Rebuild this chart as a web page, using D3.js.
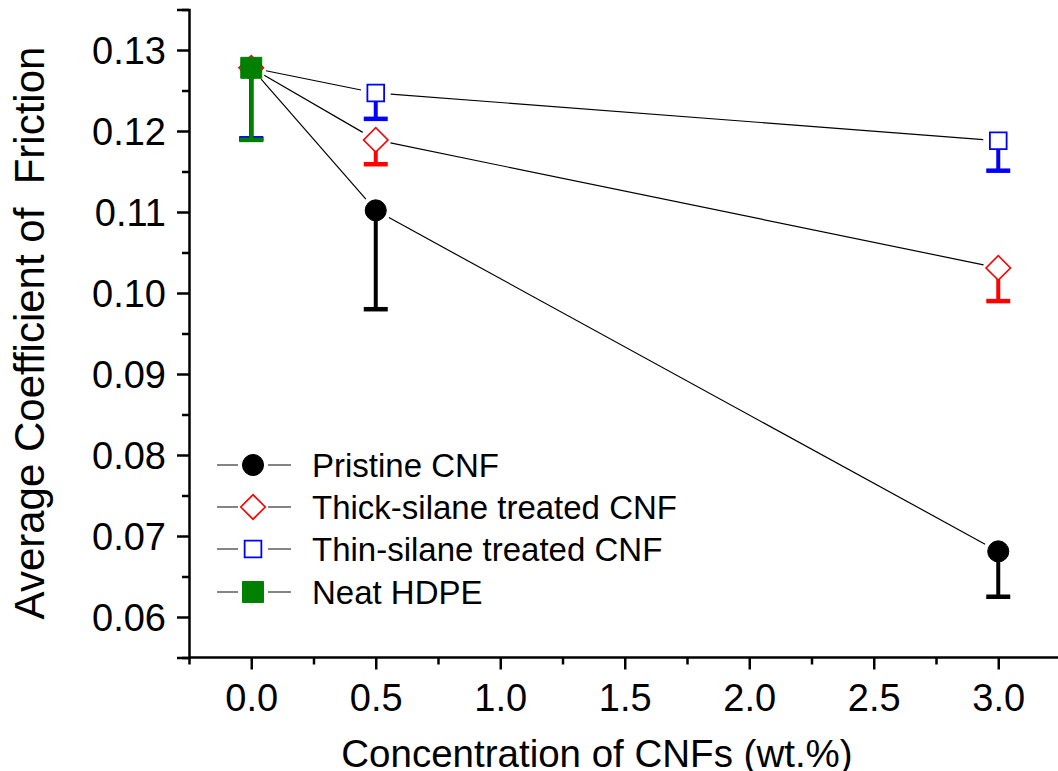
<!DOCTYPE html>
<html>
<head>
<meta charset="utf-8">
<script src="https://cdn.jsdelivr.net/npm/d3@7"></script>
<style>
  body { margin: 0; background: #fff; }
  svg { display: block; font-family: Arial, "Liberation Sans", sans-serif; }
</style>
</head>
<body>
<div id="vis"></div>
<script>
// data
let conc = [0, 0.5, 3.0];
let pristine = [0.1278, 0.1102, 0.0681];
let pristineErr = [0.0088, 0.0122, 0.0056];
let thick = [0.1278, 0.1189, 0.1031];
let thickErr = [0.0088, 0.0030, 0.0041];
let thin = [0.1278, 0.1247, 0.1188];
let thinErr = [0.0087, 0.0032, 0.0037];
let neatConc = [0];
let neat = [0.1278];
let neatErr = [0.0089];

let seriesNames = ['Pristine CNF', 'Thick-silane treated CNF', 'Thin-silane treated CNF', 'Neat HDPE'];
let xTicks = [0, 0.5, 1.0, 1.5, 2.0, 2.5, 3.0];
let yTicks = [0.06, 0.07, 0.08, 0.09, 0.10, 0.11, 0.12, 0.13];

let width = 1058;
let height = 771;

let svg = d3.select('#vis').append('svg')
  .attr('width', width)
  .attr('height', height);

let x = d3.scaleLinear().domain([-0.25, 3.25]).range([189, 1060.5]);
let y = d3.scaleLinear().domain([0.055, 0.135]).range([657.5, 9.5]);

// series table
let series = [
  { name: seriesNames[0], xs: conc, ys: pristine, err: pristineErr, color: '#000000',
    shape: d3.symbolCircle, size: 350, fill: '#000000', rot: 0, sw: 1 },
  { name: seriesNames[1], xs: conc, ys: thick, err: thickErr, color: '#ff0000',
    shape: d3.symbolSquare, size: 300, fill: '#ffffff', rot: 45, sw: 1.6 },
  { name: seriesNames[2], xs: conc, ys: thin, err: thinErr, color: '#0000ff',
    shape: d3.symbolSquare, size: 280, fill: '#ffffff', rot: 0, sw: 1.8 },
  { name: seriesNames[3], xs: neatConc, ys: neat, err: neatErr, color: '#008000',
    shape: d3.symbolSquare, size: 440, fill: '#008000', rot: 0, sw: 1 }
];

// axes
let minorX = d3.range(-0.25, 3.3, 0.5);
let minorY = d3.range(0.055, 0.1351, 0.01);

let xAxis = svg.append('g')
  .attr('transform', 'translate(0,657.5)')
  .call(d3.axisBottom(x).tickValues(xTicks).tickSize(12).tickPadding(15)
    .tickFormat(d3.format('.1f')));
svg.append('g')
  .attr('class', 'minor')
  .attr('transform', 'translate(0,657.5)')
  .call(d3.axisBottom(x).tickValues(minorX).tickSize(7).tickFormat(''));

let yAxis = svg.append('g')
  .attr('transform', 'translate(189,0)')
  .call(d3.axisLeft(y).tickValues(yTicks).tickSize(12).tickPadding(11)
    .tickFormat(d3.format('.2f')));
svg.append('g')
  .attr('class', 'minor')
  .attr('transform', 'translate(189,0)')
  .call(d3.axisLeft(y).tickValues(minorY).tickSize(7).tickFormat(''));

svg.selectAll('.domain').attr('stroke', '#000').attr('stroke-width', 2.5);
svg.selectAll('.minor .domain').remove();
svg.selectAll('.tick line').attr('stroke', '#000').attr('stroke-width', 2.5);
svg.selectAll('.tick text')
  .attr('fill', '#000')
  .style('font-size', '38px')
  .style('font-family', 'Arial, "Liberation Sans", sans-serif');
xAxis.selectAll('.domain').attr('d', 'M189,0H1058');
yAxis.selectAll('.tick text').attr('dy', '0.36em');

// axis titles
svg.append('text')
  .attr('x', 597)
  .attr('y', 767)
  .attr('text-anchor', 'middle')
  .style('font-size', '38.5px')
  .text('Concentration of CNFs (wt.%)');

svg.append('text')
  .attr('transform', 'translate(44,333) rotate(-90)')
  .attr('text-anchor', 'middle')
  .style('font-size', '42px')
  .style('white-space', 'pre')
  .text('Average Coefficient of  Friction');

// connecting lines, trimmed near the markers
let gap = 15;
let lineG = svg.append('g');
series.forEach(function (s) {
  for (let i = 0; i < s.xs.length - 1; i++) {
    let x0 = x(s.xs[i]), y0 = y(s.ys[i]);
    let x1 = x(s.xs[i + 1]), y1 = y(s.ys[i + 1]);
    let len = Math.hypot(x1 - x0, y1 - y0);
    let ux = (x1 - x0) / len, uy = (y1 - y0) / len;
    lineG.append('line')
      .attr('x1', x0 + ux * gap).attr('y1', y0 + uy * gap)
      .attr('x2', x1 - ux * gap).attr('y2', y1 - uy * gap)
      .attr('stroke', '#000')
      .attr('stroke-width', 1.2);
  }
});

// error bars (lower side only) and markers
series.forEach(function (s) {
  let g = svg.append('g');
  s.xs.forEach(function (xv, i) {
    let cx = x(xv);
    let top = y(s.ys[i]);
    let bot = y(s.ys[i] - s.err[i]);
    g.append('line')
      .attr('x1', cx).attr('x2', cx)
      .attr('y1', top).attr('y2', bot)
      .attr('stroke', s.color)
      .attr('stroke-width', 4);
    g.append('line')
      .attr('x1', cx - 12).attr('x2', cx + 12)
      .attr('y1', bot).attr('y2', bot)
      .attr('stroke', s.color)
      .attr('stroke-width', 4.5);
  });
  s.xs.forEach(function (xv, i) {
    g.append('path')
      .attr('d', d3.symbol().type(s.shape).size(s.size)())
      .attr('transform', 'translate(' + x(xv) + ',' + y(s.ys[i]) + ') rotate(' + s.rot + ')')
      .attr('fill', s.fill)
      .attr('stroke', s.color)
      .attr('stroke-width', s.sw);
  });
});

// legend
let legend = svg.append('g');
let rowY = [465, 507, 549, 592];
series.forEach(function (s, i) {
  let row = legend.append('g').attr('transform', 'translate(0,' + rowY[i] + ')');
  row.append('line').attr('x1', 217).attr('x2', 238).attr('y1', 0).attr('y2', 0)
    .attr('stroke', '#333').attr('stroke-width', 1.2);
  row.append('line').attr('x1', 268).attr('x2', 291).attr('y1', 0).attr('y2', 0)
    .attr('stroke', '#333').attr('stroke-width', 1.2);
  row.append('path')
    .attr('d', d3.symbol().type(s.shape).size(s.size)())
    .attr('transform', 'translate(253,0) rotate(' + s.rot + ')')
    .attr('fill', s.fill)
    .attr('stroke', s.color)
    .attr('stroke-width', s.sw);
  row.append('text')
    .attr('x', 312)
    .attr('y', 12)
    .style('font-size', '33px')
    .text(s.name);
});
</script>
</body>
</html>
